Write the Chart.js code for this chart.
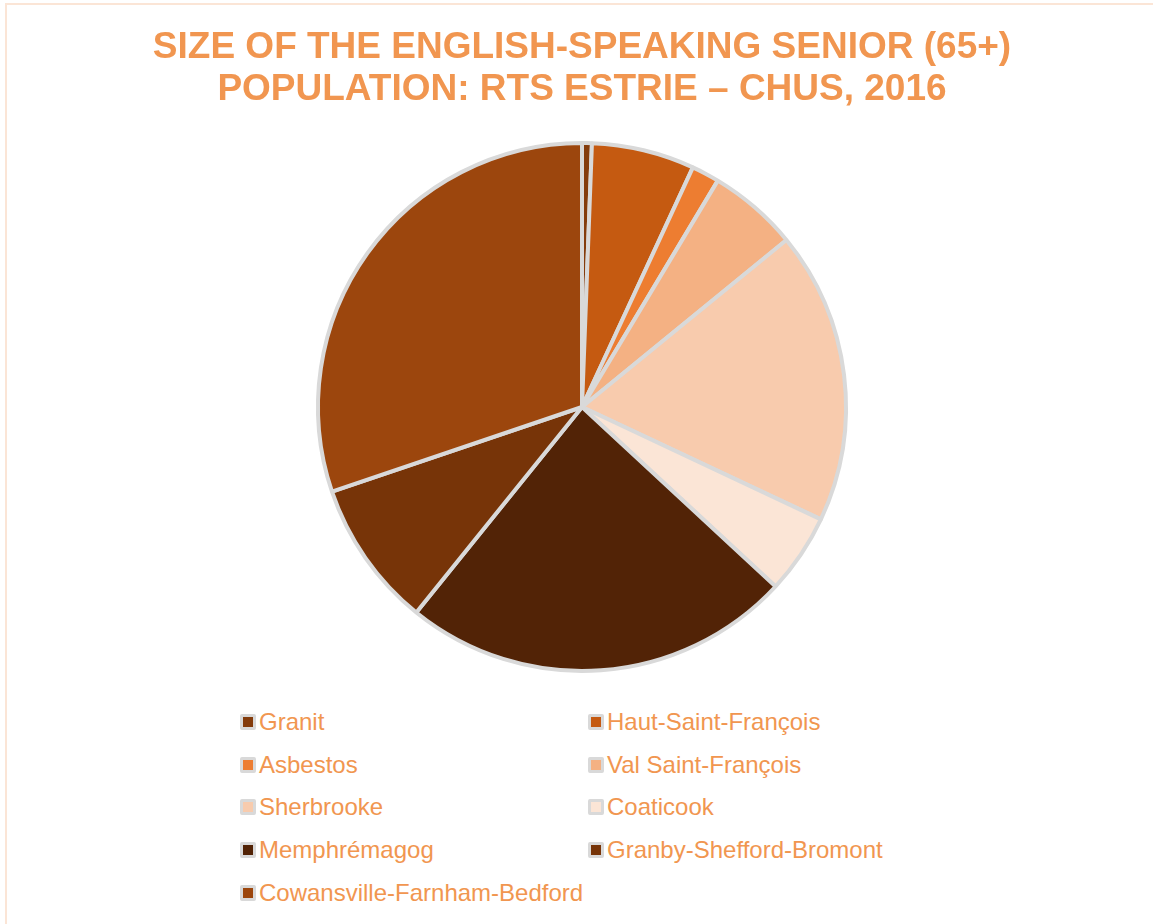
<!DOCTYPE html>
<html>
<head>
<meta charset="utf-8">
<script src="https://cdn.jsdelivr.net/npm/chart.js@4/dist/chart.umd.min.js"></script>
<style>
  html, body { margin: 0; padding: 0; background: #fff; }
  body { width: 1153px; height: 924px; position: relative; overflow: hidden; font-family: "Liberation Sans", Arial, sans-serif; }
  #frame { position: absolute; left: 5px; top: 3px; width: 1200px; height: 1000px; border: 2px solid #fbe5d6; box-sizing: border-box; }
  #wrap { position: absolute; left: 0; top: 0; width: 1153px; height: 680px; }
  #legend { position: absolute; left: 240px; top: 708px; width: 700px; }
  .item { position: absolute; display: flex; align-items: center; color: #f19650; font-size: 24px; line-height: 28px; white-space: nowrap; }
  .box { width: 10px; height: 10px; border: 3px solid #d9d9d9; border-radius: 2px; margin-right: 3px; }
</style>
</head>
<body>
<div id="frame"></div>
<div id="wrap"><canvas id="myChart"></canvas></div>
<div id="legend"></div>
<script>
// share of the English-speaking 65+ population, %
const regions = ["Granit", "Haut-Saint-François", "Asbestos", "Val Saint-François", "Sherbrooke",
  "Coaticook", "Memphrémagog", "Granby-Shefford-Bromont", "Cowansville-Farnham-Bedford"];
const shares = [0.6, 6.3, 1.7, 5.5, 17.9, 4.9, 23.9, 9.0, 30.2];
const colors = ["#843c0c", "#c55a11", "#ed7d31", "#f4b183", "#f8cbad",
  "#fbe5d6", "#522306", "#773408", "#9c460d"];

const ctx = document.getElementById("myChart");
const chart = new Chart(ctx, {
  type: "pie",
  data: {
    labels: regions,
    datasets: [{
      data: shares,
      backgroundColor: colors,
      borderColor: "#d9d9d9",
      borderWidth: 4
    }]
  },
  options: {
    responsive: true,
    maintainAspectRatio: false,
    animation: false,
    layout: { padding: { left: 11, right: 0, top: 0, bottom: 7 } },
    plugins: {
      legend: { display: false },
      tooltip: { enabled: false },
      title: {
        display: true,
        text: ["SIZE OF THE ENGLISH-SPEAKING SENIOR (65+)", "POPULATION: RTS ESTRIE – CHUS, 2016"],
        color: "#f19650",
        font: { family: "'Liberation Sans', Arial, sans-serif", size: 37, weight: "bold", lineHeight: 42 / 37 },
        padding: { top: 27, bottom: 30 }
      }
    }
  }
});

// two-column legend below the pie, built from the chart's own labels
const items = Chart.overrides.pie.plugins.legend.labels.generateLabels(chart);
const legendEl = document.getElementById("legend");
items.forEach((it, i) => {
  const div = document.createElement("div");
  div.className = "item";
  div.style.left = (i % 2 === 0 ? 0 : 348) + "px";
  div.style.top = (Math.floor(i / 2) * 42.7) + "px";
  const box = document.createElement("span");
  box.className = "box";
  box.style.background = it.fillStyle;
  const txt = document.createElement("span");
  txt.textContent = it.text;
  div.appendChild(box);
  div.appendChild(txt);
  legendEl.appendChild(div);
});
</script>
</body>
</html>
